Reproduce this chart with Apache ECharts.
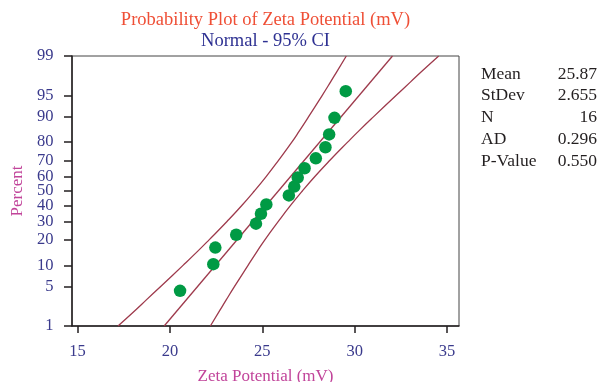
<!DOCTYPE html>
<html><head><meta charset="utf-8">
<script src="https://cdn.jsdelivr.net/npm/echarts@6/dist/echarts.min.js"></script>
<style>html,body{margin:0;padding:0;background:#fff}#c{width:601px;height:382px}</style>
</head><body><div id="c"></div>
<script>
// ---- data ----
const percentTicks = [1, 5, 10, 20, 30, 40, 50, 60, 70, 80, 90, 95, 99];
const xTicks = [15, 20, 25, 30, 35];
const dataX = [20.55, 22.35, 22.46, 23.59, 24.66, 24.93, 25.22, 26.44, 26.73, 26.92, 27.29, 27.90, 28.42, 28.62, 28.91, 29.52];
const dataPct = [4.27, 10.37, 16.46, 22.56, 28.66, 34.76, 40.85, 46.95, 53.05, 59.15, 65.24, 71.34, 77.44, 83.54, 89.63, 95.73];
const fitPct = [1, 99];
const fitX = [19.69, 32.05];
const bandPct = [1, 2, 3, 5, 10, 15, 20, 30, 40, 50, 60, 70, 80, 85, 90, 95, 97, 98, 99];
const bandLowerX = [17.19, 18.13, 18.71, 19.50, 20.71, 21.51, 22.12, 23.09, 23.88, 24.57, 25.22, 25.87, 26.60, 27.01, 27.51, 28.24, 28.70, 29.03, 29.55];
const bandUpperX = [22.19, 22.71, 23.04, 23.50, 24.23, 24.73, 25.14, 25.87, 26.52, 27.17, 27.86, 28.65, 29.62, 30.23, 31.03, 32.24, 33.03, 33.61, 34.55];
const statNames = ['Mean', 'StDev', 'N', 'AD', 'P-Value'];
const statValues = ['25.87', '2.655', '16', '0.296', '0.550'];
const titleText = 'Probability Plot of Zeta Potential (mV)';
const subtitleText = 'Normal - 95% CI';

// inverse normal CDF (probability-scale transform)
function probit(p){
  const a=[-3.969683028665376e+01,2.209460984245205e+02,-2.759285104469687e+02,1.383577518672690e+02,-3.066479806614716e+01,2.506628277459239e+00];
  const b=[-5.447609879822406e+01,1.615858368580409e+02,-1.556989798598866e+02,6.680131188771972e+01,-1.328068155288572e+01];
  const c=[-7.784894002430293e-03,-3.223964580411365e-01,-2.400758277161838e+00,-2.549732539343734e+00,4.374664141464968e+00,2.938163982698783e+00];
  const d=[7.784695709041462e-03,3.224671290700398e-01,2.445134137142996e+00,3.754408661907416e+00];
  const pl=0.02425, ph=1-pl; let q, r;
  if (p < pl) { q=Math.sqrt(-2*Math.log(p)); return (((((c[0]*q+c[1])*q+c[2])*q+c[3])*q+c[4])*q+c[5])/((((d[0]*q+d[1])*q+d[2])*q+d[3])*q+1); }
  if (p > ph) { q=Math.sqrt(-2*Math.log(1-p)); return -(((((c[0]*q+c[1])*q+c[2])*q+c[3])*q+c[4])*q+c[5])/((((d[0]*q+d[1])*q+d[2])*q+d[3])*q+1); }
  q=p-0.5; r=q*q;
  return (((((a[0]*r+a[1])*r+a[2])*r+a[3])*r+a[4])*r+a[5])*q/(((((b[0]*r+b[1])*r+b[2])*r+b[3])*r+b[4])*r+1);
}
const z = p => probit(p / 100);
const yTickVals = percentTicks.map(z);

const FONT = '"Liberation Serif", "DejaVu Serif", serif';
const LABEL_COLOR = '#3a3a8c';
const NAME_COLOR = '#c1449a';
const LINE_COLOR = '#9e3a4c';

const grid = {left: 72, top: 56, right: 142, bottom: 56};
const gridCx = grid.left + (601 - grid.left - grid.right) / 2;

const chart = echarts.init(document.getElementById('c'), null, {renderer: 'canvas'});
const graphic = [
  {type: 'text', x: gridCx, y: 20, style: {text: titleText, font: '18.5px ' + FONT, fill: '#ef4f36', align: 'center', verticalAlign: 'middle'}},
  {type: 'text', x: gridCx, y: 41, style: {text: subtitleText, font: '18.5px ' + FONT, fill: '#2e3192', align: 'center', verticalAlign: 'middle'}}
];
statNames.forEach((n, i) => {
  graphic.push({type: 'text', x: 481, y: 74 + i * 21.8, style: {text: n, font: '17.5px ' + FONT, fill: '#231f20', align: 'left', verticalAlign: 'middle'}});
  graphic.push({type: 'text', x: 597, y: 74 + i * 21.8, style: {text: statValues[i], font: '17.5px ' + FONT, fill: '#231f20', align: 'right', verticalAlign: 'middle'}});
});

chart.setOption({
  animation: false,
  backgroundColor: '#fff',
  grid: Object.assign({show: true, borderColor: '#444', borderWidth: 1, backgroundColor: 'transparent', outerBoundsMode: 'none', containLabel: false}, grid),
  graphic: graphic,
  xAxis: {
    type: 'value', min: 14.7, max: 35.65,
    name: 'Zeta Potential (mV)', nameLocation: 'middle', nameGap: 42,
    nameTextStyle: {color: NAME_COLOR, fontFamily: FONT, fontSize: 17},
    axisLine: {show: true, onZero: false, lineStyle: {color: '#231f20', width: 1.5}},
    axisTick: {show: true, length: 7, customValues: xTicks, lineStyle: {color: '#231f20', width: 1.5}},
    axisLabel: {customValues: xTicks, color: LABEL_COLOR, fontFamily: FONT, fontSize: 16.5, margin: 17},
    splitLine: {show: false}
  },
  yAxis: {
    type: 'value', min: z(1), max: z(99),
    name: 'Percent', nameLocation: 'middle', nameGap: 44,
    nameTextStyle: {color: NAME_COLOR, fontFamily: FONT, fontSize: 17},
    axisLine: {show: true, onZero: false, lineStyle: {color: '#231f20', width: 1.5}},
    axisTick: {show: true, length: 8, customValues: yTickVals, lineStyle: {color: '#231f20', width: 1.5}},
    axisLabel: {
      customValues: yTickVals, color: LABEL_COLOR, fontFamily: FONT, fontSize: 16.5, margin: 18.5,
      showMinLabel: true, showMaxLabel: true,
      formatter: v => {
        let best = 0, bd = 1e9;
        yTickVals.forEach((t, i) => { const dd = Math.abs(t - v); if (dd < bd) { bd = dd; best = i; } });
        return String(percentTicks[best]);
      }
    },
    splitLine: {show: false}
  },
  series: [
    {type: 'line', data: bandPct.map((p, i) => [bandLowerX[i], z(p)]), smooth: true, symbol: 'none',
     lineStyle: {color: LINE_COLOR, width: 1.3}, z: 2},
    {type: 'line', data: bandPct.map((p, i) => [bandUpperX[i], z(p)]), smooth: true, symbol: 'none',
     lineStyle: {color: LINE_COLOR, width: 1.3}, z: 2},
    {type: 'line', data: fitPct.map((p, i) => [fitX[i], z(p)]), symbol: 'none',
     lineStyle: {color: LINE_COLOR, width: 1.3}, z: 2},
    {type: 'scatter', data: dataPct.map((p, i) => [dataX[i], z(p)]), symbol: 'circle', symbolSize: 12.5,
     itemStyle: {color: '#009a44', opacity: 1}, z: 3}
  ]
});
</script></body></html>
